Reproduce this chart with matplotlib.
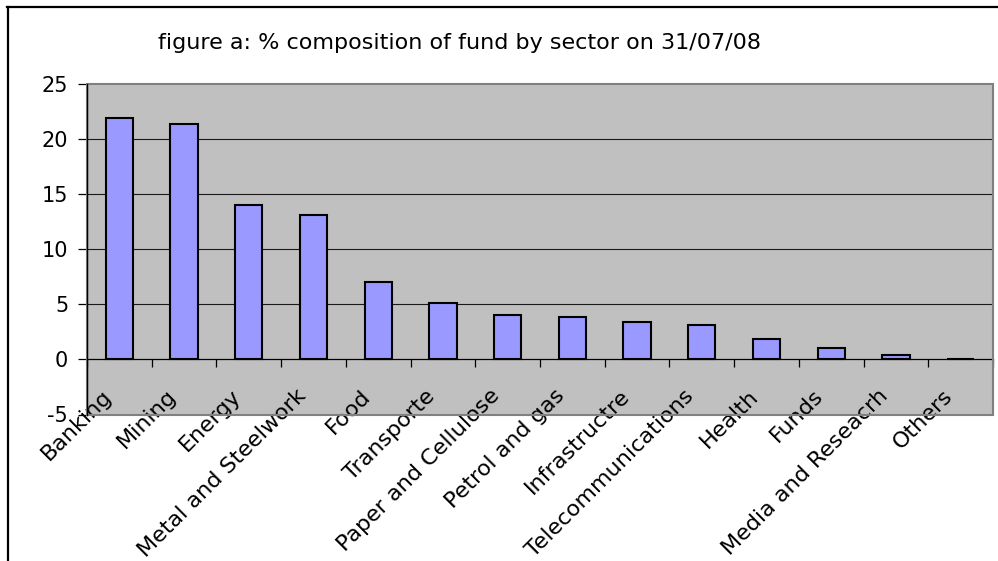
import numpy as np
import matplotlib
matplotlib.use("Agg")
import matplotlib.pyplot as plt
from matplotlib.patches import Rectangle
from matplotlib.lines import Line2D

sectors = ["Banking", "Mining", "Energy", "Metal and Steelwork", "Food",
           "Transporte", "Paper and Cellulose", "Petrol and gas", "Infrastructre",
           "Telecommunications", "Health", "Funds", "Media and Reseacrh", "Others"]
share = [21.9, 21.3, 14.0, 13.1, 7.0, 5.1, 4.0, 3.8, 3.4, 3.1, 1.8, 1.0, 0.4, 0.05]
y_ticks = [-5, 0, 5, 10, 15, 20, 25]

plt.rcParams['font.family'] = ['DejaVu Sans']

fig = plt.figure(figsize=(9.98, 5.61), dpi=100)
fig.patch.set_facecolor("white")
ax = fig.add_axes([87/998, 1 - 414.5/561, (993 - 87)/998, (414.5 - 83.5)/561])
ax.set_facecolor("#c0c0c0")

x = np.arange(len(sectors))
ax.bar(x, share, width=0.42, color="#9999ff", edgecolor="black", linewidth=1.5, zorder=3)

ax.set_xlim(-0.5, len(sectors) - 0.5)
ax.set_ylim(-5, 25)
ax.set_yticks(y_ticks)
ax.set_yticklabels([str(v) for v in y_ticks])
for v in y_ticks[2:-1]:
    ax.axhline(v, color="#1a1a1a", lw=0.8, zorder=1)

# category axis sits on the zero line, ticks between the bars
ax.spines['bottom'].set_position(('data', 0))
ax.spines['bottom'].set_color("black")
ax.spines['bottom'].set_linewidth(0.9)
ax.spines['bottom'].set_zorder(4)
ax.spines['left'].set_color("black")
ax.spines['left'].set_linewidth(0.9)
for s in ['top', 'right']:
    ax.spines[s].set_visible(False)
ax.set_xticks(np.arange(-0.5, len(sectors), 1.0))
ax.set_xticklabels([])
ax.tick_params(axis='x', direction='out', length=6, width=0.9, color="black")
ax.tick_params(axis='y', direction='out', length=6.5, width=0.9, color="black",
               labelsize=15, pad=7)

ax.add_patch(Rectangle((0, 0), 1, 1, transform=ax.transAxes, fill=False,
                       edgecolor="#808080", lw=1.5, zorder=5, clip_on=False))
ax.plot([0, 0], [0, 1], transform=ax.transAxes, color="black", lw=0.9,
        zorder=6, clip_on=False)

for i, name in enumerate(sectors):
    ax.annotate(name, xy=(i, 0), xytext=(-13, -19), textcoords='offset points',
                rotation=45, rotation_mode='anchor', ha='right', va='top',
                fontsize=16, annotation_clip=False)

fig.text(460/998, 1 - 43/561, "figure a: % composition of fund by sector on 31/07/08",
         ha='center', va='center', fontsize=16)

# chart frame, running off the right and bottom edges
fig.add_artist(Line2D([7/998, 1.0], [1 - 6.5/561, 1 - 6.5/561], color="black", lw=1.6))
fig.add_artist(Line2D([7.5/998, 7.5/998], [0.0, 1 - 6.5/561], color="black", lw=1.6))

fig.savefig("out.png", dpi=100)
